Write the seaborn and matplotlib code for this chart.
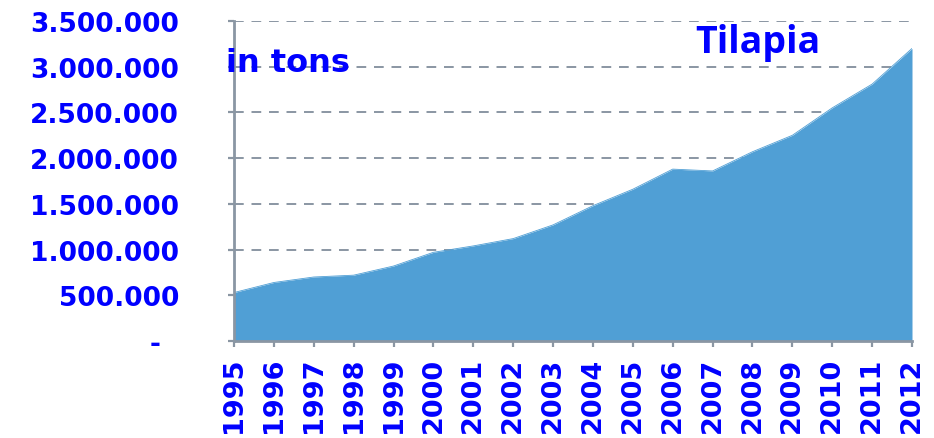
import matplotlib
matplotlib.use("Agg")
import matplotlib.pyplot as plt
import seaborn as sns
import pandas as pd

# Tilapia production, in tons
years = list(range(1995, 2013))
production = [530000, 640000, 700000, 720000, 820000, 970000, 1040000, 1120000,
              1270000, 1480000, 1660000, 1880000, 1860000, 2070000, 2250000,
              2550000, 2810000, 3200000]
y_ticks = [0, 500000, 1000000, 1500000, 2000000, 2500000, 3000000, 3500000]
y_tick_labels = ["-  ", "500.000", "1.000.000", "1.500.000", "2.000.000",
                 "2.500.000", "3.000.000", "3.500.000"]

df = pd.DataFrame({"year": years, "tons": production})

sns.set_theme(style="white")
plt.rcParams["font.family"] = ["DejaVu Sans"]

BLUE = "#0000FF"
FILL = "#509FD5"
GRID = "#8A96A3"

fig = plt.figure(figsize=(9.34, 4.39), dpi=100)
ax = fig.add_axes([234 / 934, 1 - 342 / 439, (912 - 234) / 934, (342 - 22) / 439])

sns.lineplot(data=df, x="year", y="tons", ax=ax, color=FILL, linewidth=0.6)
ax.fill_between(df["year"], 0, df["tons"], color=FILL, linewidth=0, zorder=2)

ax.set_xlim(1995, 2012)
ax.set_ylim(0, 3500000)
ax.set_xticks(years)
ax.set_xticklabels([str(y) for y in years], rotation=90, fontsize=19.5,
                   fontweight="bold", color=BLUE)
ax.set_yticks(y_ticks)
ax.set_yticklabels(y_tick_labels, fontsize=19, fontweight="bold", color=BLUE)
ax.set_xlabel("")
ax.set_ylabel("")

ax.yaxis.grid(True, color=GRID, linestyle=(0, (5, 4)), linewidth=1.4, zorder=0)
ax.xaxis.grid(False)
ax.set_axisbelow(True)

for side in ["top", "right"]:
    ax.spines[side].set_visible(False)
for side in ["left", "bottom"]:
    ax.spines[side].set_color(GRID)
    ax.spines[side].set_linewidth(2)
    ax.spines[side].set_zorder(3)

ax.tick_params(axis="both", which="major", direction="out", length=4.5,
               width=1.6, color=GRID, left=True, bottom=True)
ax.tick_params(axis="y", pad=35)
ax.tick_params(axis="x", pad=7)

ax.text(-0.012, 0.87, "in tons", transform=ax.transAxes, fontsize=23,
        fontweight="bold", color=BLUE, ha="left", va="center", zorder=4)
ax.text(0.772, 0.935, "Tilapia", transform=ax.transAxes, fontsize=27,
        fontweight="bold", color=BLUE, ha="center", va="center",
        family=["Open Sans", "DejaVu Sans"], zorder=4)

fig.savefig("out.png", dpi=100)
